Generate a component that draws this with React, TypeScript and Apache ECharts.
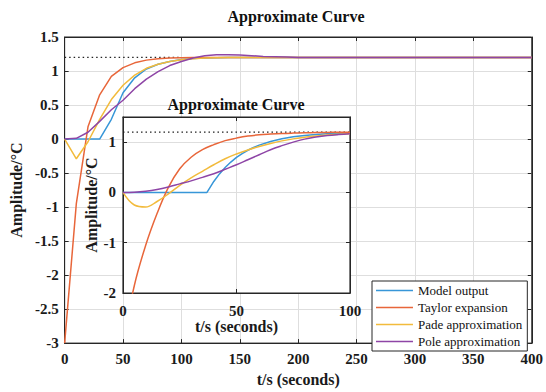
import React, { useEffect, useRef } from 'react';
import * as echarts from 'echarts';

const FONT = "'Liberation Serif', 'Times New Roman', serif";

const seriesNames = ['Model output', 'Taylor expansion', 'Pade approximation', 'Pole approximation'];
const seriesColors = ['#3796d8', '#e8663a', '#f2bb3c', '#8e45a6'];

const mainT = [0, 10, 20, 30, 40, 50, 60, 70, 80, 90, 100, 110, 120, 130, 140, 150, 160, 170, 180, 190, 200,
  210, 220, 230, 240, 250, 260, 270, 280, 290, 300, 310, 320, 330, 340, 350, 360, 370, 380, 390, 400];

const mainModel = [0, 0, 0, 0, 0.29, 0.68, 0.9, 1.03, 1.1, 1.14, 1.17, 1.185, 1.19, 1.195,
  1.2, 1.2, 1.2, 1.2, 1.2, 1.2, 1.2, 1.2, 1.2, 1.2, 1.2, 1.2, 1.2, 1.2, 1.2, 1.2, 1.2, 1.2, 1.2, 1.2, 1.2, 1.2, 1.2, 1.2, 1.2, 1.2, 1.2];
const mainTaylor = [-3, -0.95, 0.18, 0.65, 0.92, 1.05, 1.12, 1.16, 1.18, 1.19, 1.195,
  1.2, 1.2, 1.2, 1.2, 1.2, 1.2, 1.2, 1.2, 1.2, 1.2, 1.2, 1.2, 1.2, 1.2, 1.2, 1.2, 1.2, 1.2, 1.2, 1.2, 1.2, 1.2, 1.2, 1.2, 1.2, 1.2, 1.2, 1.2, 1.2, 1.2];
const mainPade = [0, -0.29, -0.04, 0.29, 0.58, 0.79, 0.94, 1.04, 1.1, 1.14, 1.165, 1.18, 1.19, 1.195,
  1.2, 1.2, 1.2, 1.2, 1.2, 1.2, 1.2, 1.2, 1.2, 1.2, 1.2, 1.2, 1.2, 1.2, 1.2, 1.2, 1.2, 1.2, 1.2, 1.2, 1.2, 1.2, 1.2, 1.2, 1.2, 1.2, 1.2];
const mainPole = [0, 0.01, 0.1, 0.26, 0.43, 0.57, 0.74, 0.88, 0.99, 1.08, 1.14, 1.19, 1.225, 1.24, 1.24, 1.235, 1.225, 1.215, 1.21, 1.205, 1.2,
  1.2, 1.2, 1.2, 1.2, 1.2, 1.2, 1.2, 1.2, 1.2, 1.2, 1.2, 1.2, 1.2, 1.2, 1.2, 1.2, 1.2, 1.2, 1.2, 1.2];

const insetT = [0, 5, 10, 15, 20, 25, 30, 35, 40, 45, 50, 55, 60, 65, 70, 75, 80, 85, 90, 95, 100];
const insetModelT = [0, 37, 40, 42.5, 45, 47.5, 50, 52.5, 55, 57.5, 60, 65, 70, 75, 80, 85, 90, 95, 100];
const insetModel = [0, 0, 0.218, 0.368, 0.496, 0.604, 0.696, 0.773, 0.839, 0.894, 0.941, 1.014, 1.067, 1.105, 1.132, 1.151, 1.165, 1.175, 1.182];
const insetTaylor = [-3, -1.85, -1.05, -0.42, 0.1, 0.47, 0.7, 0.85, 0.95, 1.03, 1.08, 1.12, 1.145, 1.16, 1.172, 1.18, 1.186, 1.19, 1.193, 1.196, 1.198];
const insetPade = [0, -0.25, -0.29, -0.18, -0.03, 0.14, 0.29, 0.42, 0.55, 0.67, 0.765, 0.845, 0.915, 0.975, 1.025, 1.065, 1.095, 1.12, 1.14, 1.155, 1.165];
const insetPole = [0, 0.005, 0.025, 0.06, 0.11, 0.17, 0.23, 0.3, 0.37, 0.46, 0.55, 0.65, 0.75, 0.85, 0.93, 1.0, 1.06, 1.1, 1.13, 1.15, 1.165];

const setpointT = [0, 100];
const setpointValue = 1.2;

const zip = (xs: number[], ys: number[]) => xs.map((x, i) => [x, ys[i]]);

const AX = '#262626';
const GRID_LINE = '#dedede';

const labelStyle = { fontFamily: FONT, fontWeight: 'bold' as const, fontSize: 15, color: '#1a1a1a' };
const nameStyle = { fontFamily: FONT, fontWeight: 'bold' as const, fontSize: 16, color: '#1a1a1a' };

const LEGEND_ICON = 'path://M0,0 L37,0 L37,0.01 L0,0.01 Z M0,5.8 L37,5.8 L37,7.3 L0,7.3 Z M0,13 L37,13 L37,13.01 L0,13.01 Z';

function buildOption() {
  const mainSets = [mainModel, mainTaylor, mainPade, mainPole];
  const insetSets = [
    zip(insetModelT, insetModel),
    zip(insetT, insetTaylor),
    zip(insetT, insetPade),
    zip(insetT, insetPole),
  ];
  const series: any[] = [];
  mainSets.forEach((vals, i) => {
    series.push({
      name: seriesNames[i], type: 'line', xAxisIndex: 0, yAxisIndex: 0,
      data: zip(mainT, vals), symbol: 'none', smooth: false,
      lineStyle: { width: 1.5, color: seriesColors[i] }, itemStyle: { color: seriesColors[i] }, z: 3,
    });
  });
  series.push({
    name: 'setpoint-main', type: 'line', xAxisIndex: 0, yAxisIndex: 0,
    data: setpointT.map((t) => [t, setpointValue]), symbol: 'none',
    lineStyle: { width: 1.2, color: '#222', type: [1.5, 3] }, z: 2,
  });
  insetSets.forEach((d, i) => {
    series.push({
      name: seriesNames[i], type: 'line', xAxisIndex: 2, yAxisIndex: 2,
      data: d, symbol: 'none', smooth: i === 0 ? false : 0.4,
      lineStyle: { width: 1.5, color: seriesColors[i] }, itemStyle: { color: seriesColors[i] }, z: 13,
    });
  });
  series.push({
    name: 'setpoint-inset', type: 'line', xAxisIndex: 2, yAxisIndex: 2,
    data: setpointT.map((t) => [t, setpointValue]), symbol: 'none',
    lineStyle: { width: 1.2, color: '#222', type: [1.5, 3] }, z: 12,
  });

  const axLine = { show: true, onZero: false, lineStyle: { color: AX } };
  const tick = { show: true, inside: true, length: 4, lineStyle: { color: AX } };

  return {
    animation: false,
    backgroundColor: '#fff',
    grid: [
      { left: 60, top: 37, width: 473, height: 314, show: true, borderColor: AX, borderWidth: 1, backgroundColor: '#fff' },
      { left: 123, top: 117, width: 227, height: 176, show: true, borderColor: AX, borderWidth: 1.2, backgroundColor: '#fff', z: 10 },
    ],
    xAxis: [
      {
        gridIndex: 0, type: 'value', min: 0, max: 400, interval: 50, position: 'bottom',
        axisLine: axLine, axisTick: tick,
        axisLabel: { ...labelStyle, margin: 8 },
        splitLine: { show: true, lineStyle: { color: GRID_LINE } },
        name: 't/s (seconds)', nameLocation: 'middle', nameGap: 23, nameTextStyle: nameStyle,
      },
      {
        gridIndex: 0, type: 'value', min: 0, max: 400, interval: 50, position: 'top',
        axisLine: axLine, axisTick: tick,
        axisLabel: { show: false }, splitLine: { show: false },
      },
      {
        gridIndex: 1, type: 'value', min: 0, max: 100, interval: 50, position: 'bottom', z: 11,
        axisLine: axLine, axisTick: tick,
        axisLabel: { ...labelStyle, margin: 10 },
        splitLine: { show: true, lineStyle: { color: GRID_LINE } },
        name: 't/s (seconds)', nameLocation: 'middle', nameGap: 25, nameTextStyle: nameStyle,
      },
      {
        gridIndex: 1, type: 'value', min: 0, max: 100, interval: 50, position: 'top', z: 11,
        axisLine: axLine, axisTick: tick,
        axisLabel: { show: false }, splitLine: { show: false },
      },
    ],
    yAxis: [
      {
        gridIndex: 0, type: 'value', min: -3, max: 1.5, interval: 0.5, position: 'left',
        axisLine: axLine, axisTick: tick,
        axisLabel: { ...labelStyle, margin: 6 },
        splitLine: { show: true, lineStyle: { color: GRID_LINE } },
        name: 'Amplitude/°C', nameLocation: 'middle', nameGap: 32, nameTextStyle: nameStyle,
      },
      {
        gridIndex: 0, type: 'value', min: -3, max: 1.5, interval: 0.5, position: 'right',
        axisLine: axLine, axisTick: tick,
        axisLabel: { show: false }, splitLine: { show: false },
      },
      {
        gridIndex: 1, type: 'value', min: -2, max: 1.5, interval: 1, position: 'left', z: 11,
        axisLine: axLine, axisTick: tick,
        axisLabel: { ...labelStyle, margin: 7, showMaxLabel: false },
        splitLine: { show: true, lineStyle: { color: GRID_LINE } },
        name: 'Amplitude/°C', nameLocation: 'middle', nameGap: 21, nameTextStyle: nameStyle,
      },
      {
        gridIndex: 1, type: 'value', min: -2, max: 1.5, interval: 1, position: 'right', z: 11,
        axisLine: axLine, axisTick: tick,
        axisLabel: { show: false }, splitLine: { show: false },
      },
    ],
    legend: {
      data: seriesNames.map((n) => ({ name: n, icon: LEGEND_ICON })),
      orient: 'vertical', left: 372, top: 281,
      backgroundColor: '#fff', borderColor: AX, borderWidth: 1, borderRadius: 0,
      padding: [3, 5, 3, 4], itemWidth: 37, itemHeight: 13, itemGap: 4,
      textStyle: { fontFamily: FONT, fontSize: 13, color: '#111' }, z: 20,
    },
    graphic: [
      {
        type: 'text', x: 296, y: 8, z: 100,
        style: { text: 'Approximate Curve', textAlign: 'center', fill: '#111', fontFamily: FONT, fontWeight: 'bold', fontSize: 16 },
      },
      {
        type: 'text', x: 236, y: 96, z: 100,
        style: { text: 'Approximate Curve', textAlign: 'center', fill: '#111', fontFamily: FONT, fontWeight: 'bold', fontSize: 16 },
      },
    ],
    series,
  };
}

export default function App() {
  const ref = useRef<HTMLDivElement>(null);
  useEffect(() => {
    const chart = echarts.init(ref.current!, null, { renderer: 'svg' });
    chart.setOption(buildOption() as any);
    return () => chart.dispose();
  }, []);
  return (
    <div
      ref={ref}
      style={{ position: 'fixed', left: 0, top: 0, width: 546, height: 392, background: '#fff' }}
    />
  );
}
